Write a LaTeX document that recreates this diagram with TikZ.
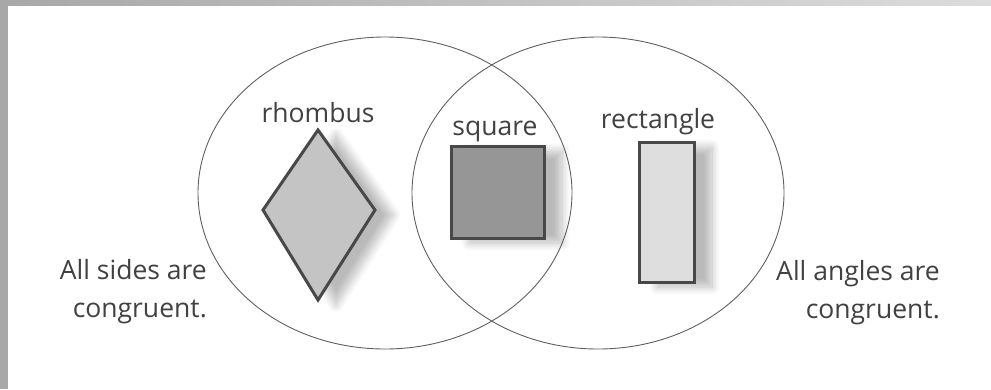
\documentclass[tikz,border=0pt]{standalone}
\usepackage{fontspec}
\setmainfont{Open Sans}
\usetikzlibrary{shadows.blur}

\definecolor{framegray}{RGB}{168,168,168}
\definecolor{circgray}{RGB}{95,95,95}
\definecolor{edgegray}{RGB}{72,72,72}
\definecolor{textgray}{RGB}{65,65,65}
\definecolor{rhombfill}{RGB}{196,196,196}
\definecolor{squarefill}{RGB}{150,150,150}
\definecolor{rectfill}{RGB}{222,222,222}

\begin{document}
\begin{tikzpicture}[x=1pt,y=-1pt,
    setline/.style={draw=circgray, line width=0.9pt},
    shapeline/.style={draw=edgegray, line width=3pt},
    softshadow/.style={blur shadow={shadow xshift=18pt, shadow yshift=-5pt,
        shadow blur radius=8pt, shadow blur steps=10, shadow opacity=27}},
    setlabel/.style={font=\fontsize{26.5}{38}\selectfont, text=textgray, inner sep=0pt}]
    \useasboundingbox (0,0) rectangle (991,389);

    % Frame at the top and left
    \fill[left color=framegray, right color=framegray!40] (0,0) rectangle (991,5);
    \fill[framegray] (0,0) rectangle (8,389);

    % Centres of the two sets
    \coordinate (L) at (385,193);
    \coordinate (R) at (598,193);

    % Shapes with their shadows
    \coordinate (RhT) at (318,130);
    \coordinate (RhR) at (375,210);
    \coordinate (RhB) at (318,300);
    \coordinate (RhL) at (263,210);
    \draw[shapeline, fill=rhombfill, softshadow] (RhT) -- (RhR) -- (RhB) -- (RhL) -- cycle;
    \draw[shapeline, fill=squarefill, softshadow] (451,146) rectangle (544,238);
    \draw[shapeline, fill=rectfill, softshadow] (639,142) rectangle (694,282);

    % The two sets
    \draw[setline] (L) ellipse [x radius=187, y radius=156];
    \draw[setline] (R) ellipse [x radius=186, y radius=156];

    % Names of the shapes
    \node[setlabel, anchor=base] (rhombus) at (318,122) {rhombus};
    \node[setlabel, anchor=base] (square) at (495,135) {square};
    \node[setlabel, anchor=base] (rectangle) at (658,128) {rectangle};

    % Properties of the sets
    \node[setlabel, anchor=east, align=right] (sides) at (207,292) {All sides are\\congruent.};
    \node[setlabel, anchor=east, align=right] (angles) at (940,293) {All angles are\\congruent.};

\end{tikzpicture}
\end{document}
